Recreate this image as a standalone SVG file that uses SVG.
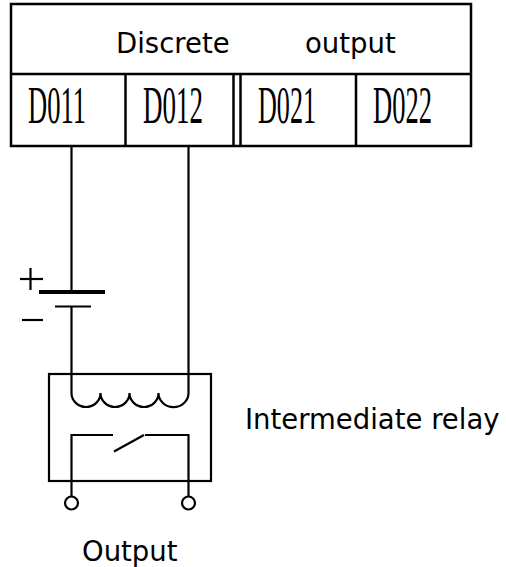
<svg xmlns="http://www.w3.org/2000/svg" width="506" height="567" viewBox="0 0 506 567">
<style>
.ln{stroke:#000;stroke-width:2.2;fill:none}
.tb{stroke:#000;stroke-width:2.5;fill:none}
.lab{font-family:"DejaVu Sans",Verdana,sans-serif;font-size:27.5px;fill:#000}
.pin{font-family:"Liberation Serif",serif;font-size:52px;fill:#000}
</style>
<rect width="506" height="567" fill="#fff"/>
<g id="module">
<rect class="tb" x="11" y="4" width="460" height="142"/>
<line class="tb" x1="11" y1="74" x2="471" y2="74"/>
<line class="tb" x1="125.5" y1="74" x2="125.5" y2="146"/>
<line class="tb" x1="233.5" y1="74" x2="233.5" y2="146"/>
<line class="tb" x1="240.5" y1="74" x2="240.5" y2="146"/>
<line class="tb" x1="356" y1="74" x2="356" y2="146"/>
<text class="lab" x="116" y="53">Discrete</text>
<text class="lab" x="305" y="53">output</text>
<text class="pin" x="28" y="123" textLength="58" lengthAdjust="spacingAndGlyphs">D011</text>
<text class="pin" x="143" y="123" textLength="60" lengthAdjust="spacingAndGlyphs">D012</text>
<text class="pin" x="258" y="123" textLength="58" lengthAdjust="spacingAndGlyphs">D021</text>
<text class="pin" x="373" y="123" textLength="59" lengthAdjust="spacingAndGlyphs">D022</text>
</g>
<g id="battery">
<line stroke="#000" stroke-width="4" x1="39" y1="292" x2="105" y2="292"/>
<line class="ln" x1="55" y1="306.5" x2="91" y2="306.5"/>
<line class="ln" x1="20" y1="279" x2="43" y2="279"/>
<line class="ln" x1="30.5" y1="268" x2="30.5" y2="290"/>
<line class="ln" x1="22" y1="320" x2="43" y2="320"/>
</g>
<g id="relay">
<rect class="ln" x="49" y="374" width="162" height="107"/>
<path class="ln" d="M71.5,393 A14.5,14 0 0 0 100.5,393 A14.5,14 0 0 0 129.5,393 A14.5,14 0 0 0 158.5,393 A14.8,14 0 0 0 188.5,393"/>
<path class="ln" d="M113,435 H71.5 V496"/>
<path class="ln" d="M145,435 H188.5 V496"/>
<line class="ln" x1="114" y1="451.5" x2="144" y2="435"/>
<circle class="ln" cx="71.5" cy="503" r="6.5"/>
<circle class="ln" cx="188.5" cy="503" r="6.5"/>
<text class="lab" x="245" y="429">Intermediate relay</text>
<text class="lab" x="82" y="561">Output</text>
</g>
<g id="connectors">
<path class="ln" d="M71.5,146 V292 M71.5,306.5 V393"/>
<path class="ln" d="M188.5,146 V393"/>
</g>
</svg>
